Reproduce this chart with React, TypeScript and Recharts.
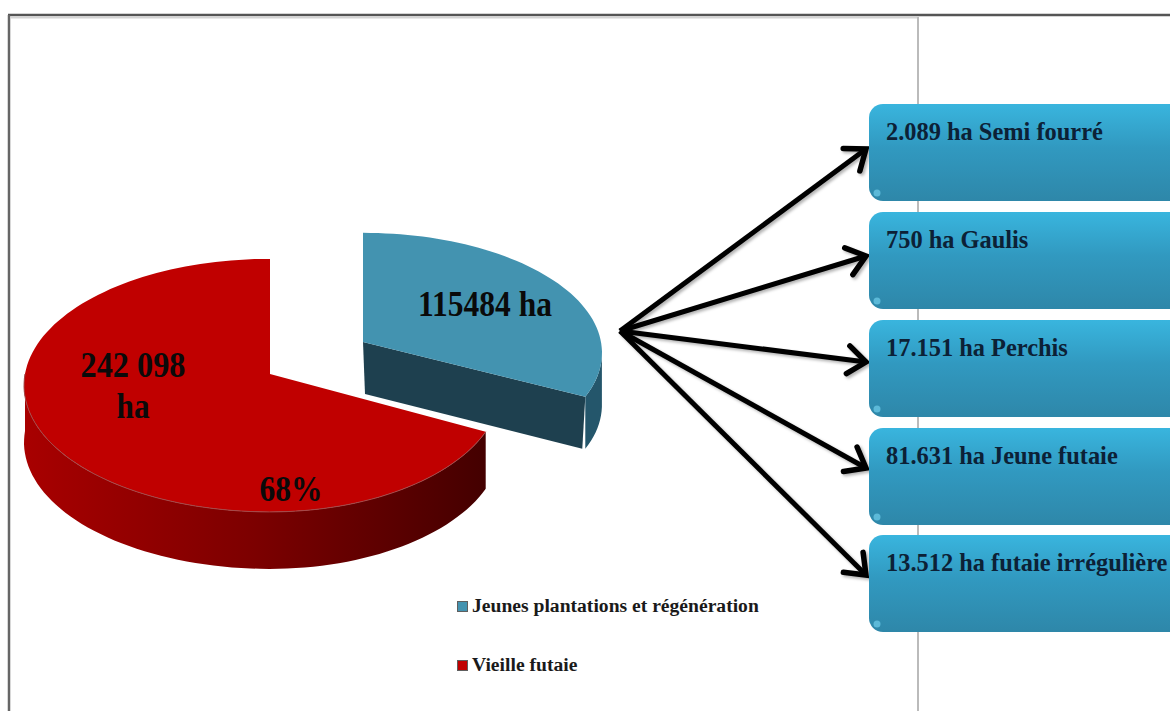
import React from "react";
import { PieChart, Pie, Cell, Legend } from "recharts";

const sliceNames = ["Jeunes plantations et régénération", "Vieille futaie"];
const sliceValues = [115484, 242098];
const sliceColors = ["#4393b0", "#c00000"];
const breakdownLabels = [
  "2.089 ha Semi fourré",
  "750 ha Gaulis",
  "17.151 ha Perchis",
  "81.631 ha Jeune futaie",
  "13.512 ha futaie irrégulière",
];
const boxTops = [104, 212, 320, 428, 535];
const arrowTipsY = [149, 256, 362, 468, 575];

const pieData = sliceNames.map((name, i) => ({ name, value: sliceValues[i] }));
const total = sliceValues.reduce((a, b) => a + b, 0);

const SERIF = "'Liberation Serif', serif";
const RAD = Math.PI / 180;
const PERSPECTIVE = 0.09;

// per-slice look of the tilted pie: explosion offset, radii and wall depth
const sliceStyles = [
  { dx: 93, dy: -32, rxLeft: 238, rxRight: 238, ry: 119, depth: 52 },
  { dx: 0, dy: 0, rxLeft: 245, rxRight: 231, ry: 125.5, depth: 57 },
];

type Geo = (typeof sliceStyles)[number] & { cx: number; cy: number };

// projects a chart angle (degrees, counter-clockwise from 3 o'clock) onto the tilted disc
function rim(g: Geo, deg: number, drop = 0): [number, number] {
  const cos = Math.cos(deg * RAD);
  const sin = -Math.sin(deg * RAD);
  const w = 1 - PERSPECTIVE * sin;
  const rx = cos < 0 ? g.rxLeft : g.rxRight;
  return [g.cx + g.dx + (rx * cos) / w, g.cy + g.dy + (g.ry * sin) / w + drop];
}

function arc(g: Geo, from: number, to: number, drop = 0) {
  const pts: string[] = [];
  const steps = Math.max(2, Math.ceil(Math.abs(to - from) / 2));
  for (let i = 0; i <= steps; i++) {
    const [x, y] = rim(g, from + ((to - from) * i) / steps, drop);
    pts.push(`${x.toFixed(1)} ${y.toFixed(1)}`);
  }
  return pts;
}

function TiltedSlice(props: any) {
  const { cx, cy, startAngle, endAngle, fill, index } = props;
  const g: Geo = { ...sliceStyles[index], cx, cy };
  const ax = cx + g.dx;
  const ay = cy + g.dy;
  const top = `M${ax} ${ay} L${arc(g, startAngle, endAngle).join(" L")} Z`;

  if (index === 0) {
    // the pulled-out slice shows its cut face and a short piece of rim
    const [ex, ey] = rim(g, endAngle);
    const cut = `M${ax} ${ay} L${ex} ${ey} L${ex - 3} ${ey + g.depth} L${ax + 2} ${ay + g.depth} Z`;
    const side = [...arc(g, endAngle, endAngle + 22), ...arc(g, endAngle + 22, endAngle, g.depth)];
    return (
      <g>
        <path d={`M${side.join(" L")} Z`} fill="#24566b" />
        <path d={cut} fill="#1e404f" />
        <path d={top} fill={fill} />
      </g>
    );
  }

  const wall = [...arc(g, startAngle, -180), ...arc(g, -180, startAngle, g.depth)];
  return (
    <g>
      <path d={`M${wall.join(" L")} Z`} fill="url(#wallShade)" />
      <path d={top} fill={fill} />
      <path d={`M${arc(g, startAngle, -180).join(" L")}`} fill="none" stroke="#a24a4a" strokeWidth={1} />
    </g>
  );
}

const textStyle = { fontFamily: SERIF, fontWeight: 700, fontSize: 35, fill: "#0a0a0a" };

// the value labels run narrow and tall, so their widths are held with textLength
function SliceLabel({ index, value }: any) {
  const common = { textAnchor: "middle" as const, lengthAdjust: "spacingAndGlyphs" as const, style: textStyle };
  if (index === 0) {
    return (
      <text x={485} y={316} textLength={134} {...common}>
        {`${value} ha`}
      </text>
    );
  }
  const spaced = String(value).replace(/\B(?=(\d{3})+$)/g, " ");
  return (
    <g>
      <text x={133} y={377} textLength={105} {...common}>{spaced}</text>
      <text x={133} y={418} textLength={33} {...common}>ha</text>
      <text x={291} y={501} textLength={63} {...common}>
        {`${Math.round((value / total) * 100)}%`}
      </text>
    </g>
  );
}

function LegendList({ payload }: any) {
  return (
    <div>
      {(payload || []).map((entry: any, i: number) => (
        <div
          key={entry.value}
          style={{
            display: "flex",
            alignItems: "center",
            height: 24,
            marginBottom: i === 0 ? 35 : 0,
            fontFamily: SERIF,
            fontWeight: 700,
            fontSize: 19.6,
            color: "#1a1a1a",
            whiteSpace: "nowrap",
          }}
        >
          <span
            style={{
              boxSizing: "border-box",
              width: 11,
              height: 11,
              marginRight: 4,
              background: entry.color,
              border: "1px solid #5f5f5f",
            }}
          />
          {entry.value}
        </div>
      ))}
    </div>
  );
}

function Frame() {
  const ox = 620;
  const oy = 331;
  const tipX = 866;
  return (
    <svg width={1170} height={711} style={{ position: "absolute", left: 0, top: 0 }}>
      <defs>
        <linearGradient id="boxFill" x1="0" y1="0" x2="0" y2="1">
          <stop offset="0" stopColor="#39b5de" />
          <stop offset="0.45" stopColor="#3199c0" />
          <stop offset="1" stopColor="#2e87a9" />
        </linearGradient>
        <marker id="openHead" markerUnits="userSpaceOnUse" markerWidth={30} markerHeight={36} refX={24} refY={18} orient="auto">
          <path d="M6 4 L24 18 L6 32" fill="none" stroke="#000" strokeWidth={5.5} strokeLinecap="round" />
        </marker>
        <filter id="arrowShadow" x="-10%" y="-10%" width="120%" height="120%">
          <feDropShadow dx={2} dy={2} stdDeviation={1.5} floodColor="#000" floodOpacity={0.3} />
        </filter>
      </defs>
      <line x1={8} y1={15} x2={1170} y2={15} stroke="#555" strokeWidth={2.5} />
      <line x1={9} y1={15} x2={9} y2={711} stroke="#666" strokeWidth={2.5} />
      <line x1={10} y1={17.5} x2={918} y2={17.5} stroke="#d4d4d4" strokeWidth={2} />
      <line x1={918} y1={17} x2={918} y2={711} stroke="#bbb" strokeWidth={2} />
      <g filter="url(#arrowShadow)">
        {arrowTipsY.map((tipY, i) => (
          <line key={i} x1={ox} y1={oy} x2={tipX} y2={tipY} stroke="#000" strokeWidth={5} markerEnd="url(#openHead)" />
        ))}
      </g>
      {breakdownLabels.map((label, i) => (
        <g key={label}>
          <rect x={869} y={boxTops[i]} width={340} height={97} rx={14} fill="url(#boxFill)" />
          <circle cx={877} cy={boxTops[i] + 89} r={3.5} fill="#5cb9d8" />
          <text
            x={886}
            y={boxTops[i] + 36}
            style={{ fontFamily: SERIF, fontWeight: 700, fontSize: 24.4, fill: "#0c2136" }}
          >
            {label}
          </text>
        </g>
      ))}
    </svg>
  );
}

export default function App() {
  return (
    <div style={{ position: "absolute", left: 0, top: 0, width: 1170, height: 711, overflow: "hidden", background: "#fff" }}>
      <Frame />
      <div style={{ position: "absolute", left: 0, top: 0 }}>
        <PieChart width={1170} height={711} margin={{ top: 0, right: 0, bottom: 0, left: 0 }}>
          <defs>
            <linearGradient id="wallShade" x1="0" y1="0" x2="1" y2="0">
              <stop offset="0" stopColor="#a80000" />
              <stop offset="0.5" stopColor="#7c0000" />
              <stop offset="1" stopColor="#440000" />
            </linearGradient>
          </defs>
          <Pie
            data={pieData}
            dataKey="value"
            nameKey="name"
            cx={270}
            cy={374}
            outerRadius={240}
            startAngle={90}
            endAngle={-270}
            stroke="none"
            shape={TiltedSlice}
            label={SliceLabel}
            labelLine={false}
            isAnimationActive={false}
          >
            {pieData.map((d, i) => (
              <Cell key={d.name} fill={sliceColors[i]} />
            ))}
          </Pie>
          <Legend
            layout="vertical"
            content={LegendList}
            wrapperStyle={{ left: 457, top: 594, width: 330, bottom: "auto" }}
          />
        </PieChart>
      </div>
    </div>
  );
}
